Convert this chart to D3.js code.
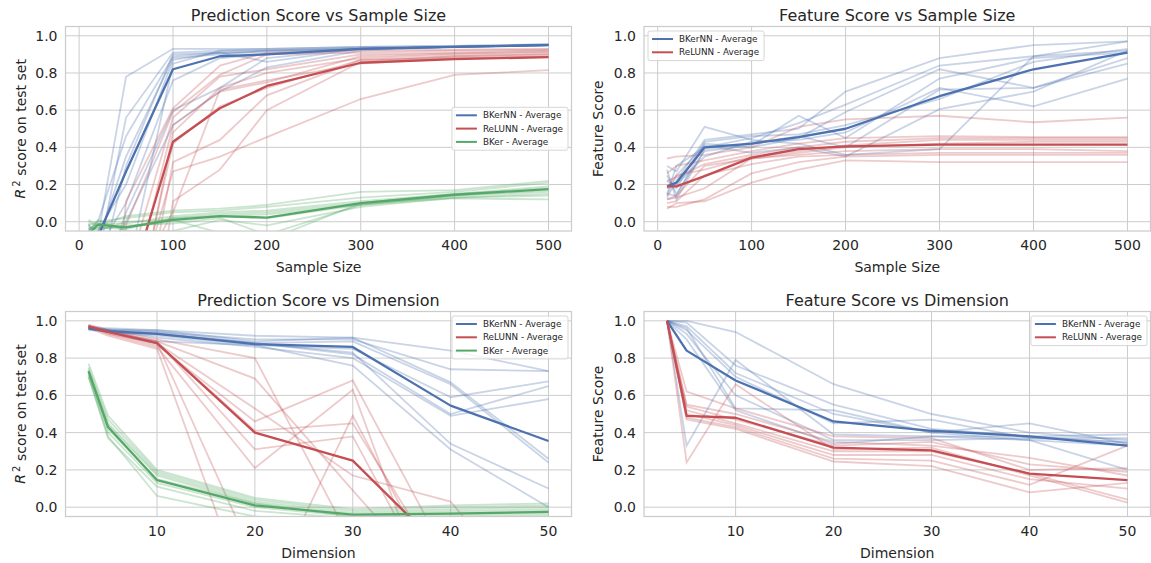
<!DOCTYPE html>
<html>
<head>
<meta charset="utf-8">
<script src="https://d3js.org/d3.v7.min.js"></script>
<style>
  body { margin: 0; background: #fff; }
  text { font-family: "DejaVu Sans", sans-serif; fill: #262626; }
</style>
</head>
<body>
<div id="chart"></div>
<script>
// ---- data ----
const sampleSizes = [10, 20, 50, 100, 150, 200, 300, 400, 500];
const dimensions = [3, 5, 10, 20, 30, 40, 50];
const sizeTicks = [0, 100, 200, 300, 400, 500];
const dimTicks = [10, 20, 30, 40, 50];
const scoreTicks = [0, 0.2, 0.4, 0.6, 0.8, 1.0];

// prediction score vs sample size
const predSizeBKerNNRuns = [
  [-0.30, -0.08, 0.78, 0.93, 0.93, 0.93, 0.94, 0.945, 0.955],
  [-0.10, -0.20, 0.56, 0.91, 0.92, 0.92, 0.935, 0.94, 0.95],
  [-0.05, 0.00, 0.46, 0.89, 0.91, 0.86, 0.93, 0.94, 0.95],
  [-0.30, -0.10, 0.35, 0.88, 0.90, 0.92, 0.93, 0.94, 0.95],
  [-0.20, -0.30, 0.30, 0.90, 0.91, 0.91, 0.93, 0.94, 0.955],
  [-0.40, -0.05, 0.20, 0.87, 0.91, 0.92, 0.93, 0.94, 0.95],
  [-0.01, -0.15, 0.10, 0.76, 0.88, 0.90, 0.93, 0.94, 0.95],
  [-0.50, -0.40, 0.05, 0.60, 0.72, 0.88, 0.93, 0.94, 0.95],
  [-0.30, -0.25, 0.00, 0.52, 0.70, 0.83, 0.92, 0.94, 0.95],
  [-0.60, -0.50, -0.30, 0.85, 0.92, 0.93, 0.94, 0.945, 0.95]
];
const predSizeBKerNNAvg = [-0.30, -0.08, 0.27, 0.82, 0.89, 0.90, 0.93, 0.94, 0.95];
const predSizeReLUNNRuns = [
  [-2.0, -1.5, 0.11, 0.61, 0.84, 0.91, 0.92, 0.925, 0.93],
  [-3.0, -2.0, -0.02, 0.59, 0.79, 0.90, 0.91, 0.92, 0.925],
  [-2.5, -1.8, -0.30, 0.56, 0.78, 0.82, 0.90, 0.91, 0.92],
  [-1.5, -1.0, -0.50, 0.52, 0.70, 0.75, 0.89, 0.905, 0.915],
  [-2.0, -2.0, -0.80, 0.48, 0.72, 0.80, 0.88, 0.90, 0.91],
  [-3.0, -2.5, -1.00, 0.32, 0.44, 0.68, 0.87, 0.89, 0.90],
  [-2.0, -1.5, -0.60, 0.27, 0.35, 0.455, 0.66, 0.79, 0.815],
  [-4.0, -3.0, -1.50, 0.11, 0.28, 0.60, 0.86, 0.89, 0.90],
  [-2.5, -2.0, -0.40, 0.05, 0.71, 0.76, 0.85, 0.88, 0.89],
  [-3.0, -2.0, -0.70, 0.42, 0.62, 0.72, 0.87, 0.88, 0.885]
];
const predSizeReLUNNAvg = [-2.5, -1.8, -0.41, 0.43, 0.61, 0.73, 0.855, 0.875, 0.885];
const predSizeBKerRuns = [
  [0.01, -0.02, 0.03, 0.06, 0.07, 0.09, 0.16, 0.17, 0.22],
  [-0.02, 0.00, 0.02, 0.05, 0.06, 0.08, 0.13, 0.16, 0.21],
  [-0.04, -0.01, -0.01, 0.03, 0.05, 0.06, 0.11, 0.15, 0.19],
  [0.00, -0.03, -0.04, 0.02, 0.04, 0.05, 0.10, 0.15, 0.18],
  [-0.05, -0.02, -0.03, 0.00, 0.03, 0.04, 0.09, 0.14, 0.17],
  [-0.03, -0.04, -0.02, -0.01, 0.02, -0.07, 0.09, 0.14, 0.16],
  [-0.06, 0.01, -0.05, -0.05, 0.01, -0.02, 0.08, 0.13, 0.15],
  [-0.02, -0.05, 0.00, 0.01, -0.06, -0.10, 0.10, 0.13, 0.14],
  [-0.04, -0.03, -0.03, 0.02, 0.03, 0.02, 0.09, 0.125, 0.12]
];
const predSizeBKerAvg = [-0.07, -0.015, -0.03, 0.01, 0.03, 0.022, 0.10, 0.145, 0.175];

// feature score vs sample size
const featSizeBKerNNRuns = [
  [0.30, 0.27, 0.51, 0.44, 0.42, 0.36, 0.39, 0.89, 0.97],
  [0.13, 0.22, 0.44, 0.47, 0.50, 0.70, 0.88, 0.95, 0.97],
  [0.15, 0.30, 0.40, 0.45, 0.53, 0.63, 0.84, 0.89, 0.92],
  [0.25, 0.15, 0.38, 0.41, 0.57, 0.45, 0.77, 0.88, 0.91],
  [0.12, 0.14, 0.42, 0.40, 0.45, 0.59, 0.82, 0.72, 0.85],
  [0.18, 0.20, 0.35, 0.43, 0.44, 0.48, 0.72, 0.62, 0.77],
  [0.14, 0.25, 0.41, 0.37, 0.40, 0.35, 0.605, 0.70, 0.92],
  [0.22, 0.18, 0.43, 0.46, 0.47, 0.52, 0.66, 0.86, 0.93],
  [0.28, 0.12, 0.39, 0.42, 0.46, 0.40, 0.71, 0.72, 0.88]
];
const featSizeBKerNNAvg = [0.19, 0.21, 0.40, 0.42, 0.455, 0.50, 0.675, 0.82, 0.91];
const featSizeReLUNNRuns = [
  [0.34, 0.35, 0.36, 0.40, 0.51, 0.55, 0.57, 0.535, 0.56],
  [0.26, 0.30, 0.33, 0.38, 0.42, 0.45, 0.46, 0.455, 0.455],
  [0.22, 0.24, 0.31, 0.36, 0.40, 0.43, 0.45, 0.45, 0.45],
  [0.18, 0.25, 0.28, 0.35, 0.38, 0.41, 0.44, 0.44, 0.44],
  [0.15, 0.14, 0.30, 0.34, 0.37, 0.40, 0.42, 0.43, 0.43],
  [0.12, 0.13, 0.18, 0.34, 0.36, 0.38, 0.39, 0.39, 0.38],
  [0.10, 0.11, 0.25, 0.31, 0.35, 0.36, 0.37, 0.37, 0.37],
  [0.08, 0.08, 0.12, 0.26, 0.32, 0.35, 0.36, 0.36, 0.36],
  [0.07, 0.10, 0.11, 0.21, 0.28, 0.33, 0.32, 0.32, 0.32]
];
const featSizeReLUNNAvg = [0.19, 0.19, 0.245, 0.345, 0.39, 0.405, 0.415, 0.415, 0.415];

// prediction score vs dimension
const predDimBKerNNRuns = [
  [0.97, 0.96, 0.95, 0.92, 0.91, 0.84, 0.73],
  [0.96, 0.955, 0.94, 0.90, 0.90, 0.74, 0.73],
  [0.965, 0.95, 0.95, 0.89, 0.91, 0.67, 0.26],
  [0.96, 0.95, 0.93, 0.88, 0.89, 0.66, 0.24],
  [0.955, 0.94, 0.92, 0.87, 0.85, 0.59, 0.675],
  [0.95, 0.945, 0.94, 0.88, 0.82, 0.50, 0.65],
  [0.97, 0.95, 0.91, 0.86, 0.80, 0.49, 0.58],
  [0.96, 0.94, 0.93, 0.88, 0.83, 0.34, 0.10],
  [0.955, 0.945, 0.89, 0.87, 0.76, 0.31, 0.00]
];
const predDimBKerNNAvg = [0.96, 0.945, 0.93, 0.875, 0.86, 0.545, 0.355];
const predDimReLUNNRuns = [
  [0.98, 0.95, 0.90, 0.80, -0.20, -1.0, -2.0],
  [0.97, 0.94, 0.89, 0.69, 0.09, -0.5, -1.0],
  [0.97, 0.93, 0.88, 0.53, 0.17, 0.03, -0.6],
  [0.96, 0.94, 0.87, 0.46, 0.68, -0.3, -1.0],
  [0.97, 0.95, 0.88, 0.41, 0.45, -0.4, -0.8],
  [0.975, 0.94, 0.89, 0.31, 0.38, -0.6, -1.2],
  [0.97, 0.93, 0.86, 0.21, 0.63, -0.8, -1.5],
  [0.96, 0.92, 0.85, -0.60, 0.49, -0.5, -1.0],
  [0.97, 0.94, 0.88, -0.28, -0.40, -2.0, -3.0]
];
const predDimReLUNNAvg = [0.97, 0.94, 0.88, 0.40, 0.25, -0.27, -0.5];
const predDimBKerRuns = [
  [0.77, 0.49, 0.20, 0.05, -0.01, 0.01, 0.02],
  [0.75, 0.47, 0.19, 0.04, -0.02, 0.00, 0.01],
  [0.74, 0.45, 0.18, 0.03, -0.03, -0.01, 0.00],
  [0.73, 0.44, 0.17, 0.02, -0.04, -0.02, -0.01],
  [0.72, 0.42, 0.15, 0.02, -0.05, -0.03, -0.02],
  [0.71, 0.40, 0.13, 0.00, -0.05, -0.04, -0.03],
  [0.70, 0.37, 0.11, -0.02, -0.06, -0.05, -0.04],
  [0.70, 0.38, 0.06, -0.05, -0.08, -0.06, -0.05]
];
const predDimBKerAvg = [0.73, 0.43, 0.145, 0.01, -0.04, -0.035, -0.025];

// feature score vs dimension
const featDimBKerNNRuns = [
  [1.0, 1.00, 0.94, 0.66, 0.50, 0.40, 0.36],
  [1.0, 0.99, 0.76, 0.55, 0.42, 0.38, 0.39],
  [1.0, 0.97, 0.72, 0.50, 0.40, 0.45, 0.34],
  [1.0, 0.95, 0.70, 0.45, 0.47, 0.37, 0.35],
  [1.0, 0.33, 0.79, 0.39, 0.38, 0.36, 0.33],
  [1.0, 0.93, 0.60, 0.36, 0.36, 0.37, 0.37],
  [1.0, 0.96, 0.53, 0.52, 0.40, 0.36, 0.20],
  [1.0, 0.90, 0.52, 0.34, 0.38, 0.38, 0.345]
];
const featDimBKerNNAvg = [1.0, 0.84, 0.68, 0.46, 0.41, 0.38, 0.33];
const featDimReLUNNRuns = [
  [1.0, 0.62, 0.53, 0.38, 0.37, 0.20, 0.21],
  [1.0, 0.55, 0.50, 0.35, 0.33, 0.265, 0.17],
  [1.0, 0.54, 0.47, 0.33, 0.35, 0.23, 0.19],
  [1.0, 0.52, 0.45, 0.30, 0.30, 0.18, 0.04],
  [1.0, 0.50, 0.44, 0.28, 0.28, 0.15, 0.10],
  [1.0, 0.48, 0.43, 0.26, 0.25, 0.12, 0.33],
  [1.0, 0.47, 0.42, 0.245, 0.22, 0.08, 0.13],
  [1.0, 0.24, 0.66, 0.31, 0.32, 0.17, 0.025]
];
const featDimReLUNNAvg = [1.0, 0.49, 0.48, 0.32, 0.305, 0.18, 0.145];

const blue = '#4c72b0', red = '#c44e52', green = '#55a868';
const gridColor = '#cccccc';

const width = 1151, height = 563;
const svg = d3.select('#chart').append('svg')
  .attr('width', width)
  .attr('height', height)
  .style('background', '#fff');

const panels = [
  {
    title: 'Prediction Score vs Sample Size', xlabel: 'Sample Size', ylabel: 'r2',
    xs: sampleSizes, xTicks: sizeTicks, box: [65.5, 26.5, 571.5, 231],
    series: [
      { name: 'BKerNN - Average', color: blue, runs: predSizeBKerNNRuns, avg: predSizeBKerNNAvg },
      { name: 'ReLUNN - Average', color: red, runs: predSizeReLUNNRuns, avg: predSizeReLUNNAvg },
      { name: 'BKer - Average', color: green, runs: predSizeBKerRuns, avg: predSizeBKerAvg }
    ],
    legend: 'center right'
  },
  {
    title: 'Feature Score vs Sample Size', xlabel: 'Sample Size', ylabel: 'Feature Score',
    xs: sampleSizes, xTicks: sizeTicks, box: [644, 26.5, 1150.5, 231],
    series: [
      { name: 'BKerNN - Average', color: blue, runs: featSizeBKerNNRuns, avg: featSizeBKerNNAvg },
      { name: 'ReLUNN - Average', color: red, runs: featSizeReLUNNRuns, avg: featSizeReLUNNAvg }
    ],
    legend: 'upper left'
  },
  {
    title: 'Prediction Score vs Dimension', xlabel: 'Dimension', ylabel: 'r2',
    xs: dimensions, xTicks: dimTicks, box: [65.5, 311.5, 571.5, 516.5],
    series: [
      { name: 'BKerNN - Average', color: blue, runs: predDimBKerNNRuns, avg: predDimBKerNNAvg },
      { name: 'ReLUNN - Average', color: red, runs: predDimReLUNNRuns, avg: predDimReLUNNAvg },
      { name: 'BKer - Average', color: green, runs: predDimBKerRuns, avg: predDimBKerAvg }
    ],
    legend: 'upper right'
  },
  {
    title: 'Feature Score vs Dimension', xlabel: 'Dimension', ylabel: 'Feature Score',
    xs: dimensions, xTicks: dimTicks, box: [644, 311.5, 1150.5, 516.5],
    series: [
      { name: 'BKerNN - Average', color: blue, runs: featDimBKerNNRuns, avg: featDimBKerNNAvg },
      { name: 'ReLUNN - Average', color: red, runs: featDimReLUNNRuns, avg: featDimReLUNNAvg }
    ],
    legend: 'upper right'
  }
];

panels.forEach((p, pi) => {
  const [x0, y0, x1, y1] = p.box;
  const xmin = d3.min(p.xs), xmax = d3.max(p.xs);
  const pad = (xmax - xmin) * 0.05;
  const x = d3.scaleLinear().domain([xmin - pad, xmax + pad]).range([x0, x1]);
  const y = d3.scaleLinear().domain([-0.05, 1.05]).range([y1, y0]);

  const g = svg.append('g');

  // grid
  g.selectAll('.vgrid').data(p.xTicks).join('line')
    .attr('x1', d => x(d)).attr('x2', d => x(d))
    .attr('y1', y0).attr('y2', y1)
    .attr('stroke', gridColor).attr('stroke-width', 1);
  g.selectAll('.hgrid').data(scoreTicks).join('line')
    .attr('x1', x0).attr('x2', x1)
    .attr('y1', d => y(d)).attr('y2', d => y(d))
    .attr('stroke', gridColor).attr('stroke-width', 1);

  // tick labels
  g.selectAll('.xt').data(p.xTicks).join('text')
    .attr('x', d => x(d)).attr('y', y1 + 19)
    .attr('text-anchor', 'middle')
    .style('font-size', '14px')
    .text(d => d);
  g.selectAll('.yt').data(scoreTicks).join('text')
    .attr('x', x0 - 8).attr('y', d => y(d))
    .attr('dy', '0.36em')
    .attr('text-anchor', 'end')
    .style('font-size', '14px')
    .text(d => d.toFixed(1));

  // title and axis labels
  g.append('text')
    .attr('x', (x0 + x1) / 2).attr('y', y0 - 6)
    .attr('text-anchor', 'middle')
    .style('font-size', '16px')
    .text(p.title);
  g.append('text')
    .attr('x', (x0 + x1) / 2).attr('y', y1 + 41)
    .attr('text-anchor', 'middle')
    .style('font-size', '14px')
    .text(p.xlabel);

  const yl = g.append('text')
    .attr('transform', `translate(${x0 - 41},${(y0 + y1) / 2}) rotate(-90)`)
    .attr('text-anchor', 'middle')
    .style('font-size', '14px');
  if (p.ylabel === 'r2') {
    yl.append('tspan').style('font-style', 'italic').text('R');
    yl.append('tspan').attr('dx', 2).attr('dy', '-0.45em').style('font-size', '10px').text('2');
    yl.append('tspan').attr('dy', '0.45em').text(' score on test set');
  } else {
    yl.text(p.ylabel);
  }

  // lines, clipped to the plot area
  const clipId = 'clip' + pi;
  svg.append('clipPath').attr('id', clipId)
    .append('rect').attr('x', x0).attr('y', y0).attr('width', x1 - x0).attr('height', y1 - y0);
  const plot = g.append('g').attr('clip-path', `url(#${clipId})`);
  const line = d3.line().x((d, i) => x(p.xs[i])).y(d => y(d));

  p.series.forEach(s => {
    plot.selectAll(null).data(s.runs).join('path')
      .attr('d', line)
      .attr('fill', 'none')
      .attr('stroke', s.color)
      .attr('stroke-opacity', 0.3)
      .attr('stroke-width', 1.8);
  });
  p.series.forEach(s => {
    plot.append('path')
      .datum(s.avg)
      .attr('d', line)
      .attr('fill', 'none')
      .attr('stroke', s.color)
      .attr('stroke-width', 2.3)
      .attr('stroke-linejoin', 'round');
  });

  // frame
  g.append('rect')
    .attr('x', x0).attr('y', y0).attr('width', x1 - x0).attr('height', y1 - y0)
    .attr('fill', 'none').attr('stroke', gridColor).attr('stroke-width', 1.25);

  // legend
  const rowH = 13.3;
  const lg = g.append('g');
  const item = lg.selectAll('.li').data(p.series).join('g')
    .attr('transform', (d, i) => `translate(0,${8 + i * rowH})`);
  item.append('line')
    .attr('x1', 4).attr('x2', 25)
    .attr('stroke', d => d.color).attr('stroke-width', 2);
  const labels = item.append('text')
    .attr('x', 31).attr('dy', '0.35em')
    .style('font-size', '8.8px')
    .text(d => d.name);
  let maxLen = 0;
  labels.each(function () { maxLen = Math.max(maxLen, this.getComputedTextLength()); });
  const boxW = 31 + maxLen + 5;
  const boxH = p.series.length * rowH + 3;
  lg.insert('rect', ':first-child')
    .attr('width', boxW).attr('height', boxH)
    .attr('rx', 2)
    .attr('fill', '#fff').attr('fill-opacity', 0.8)
    .attr('stroke', '#d6d6d6').attr('stroke-width', 1);
  let lx, ly;
  if (p.legend === 'center right') { lx = x1 - 3.5 - boxW; ly = (y0 + y1) / 2 - boxH / 2; }
  else if (p.legend === 'upper left') { lx = x0 + 4; ly = y0 + 4.5; }
  else { lx = x1 - 3.5 - boxW; ly = y0 + 4.5; }
  lg.attr('transform', `translate(${lx},${ly})`);
});
</script>
</body>
</html>
